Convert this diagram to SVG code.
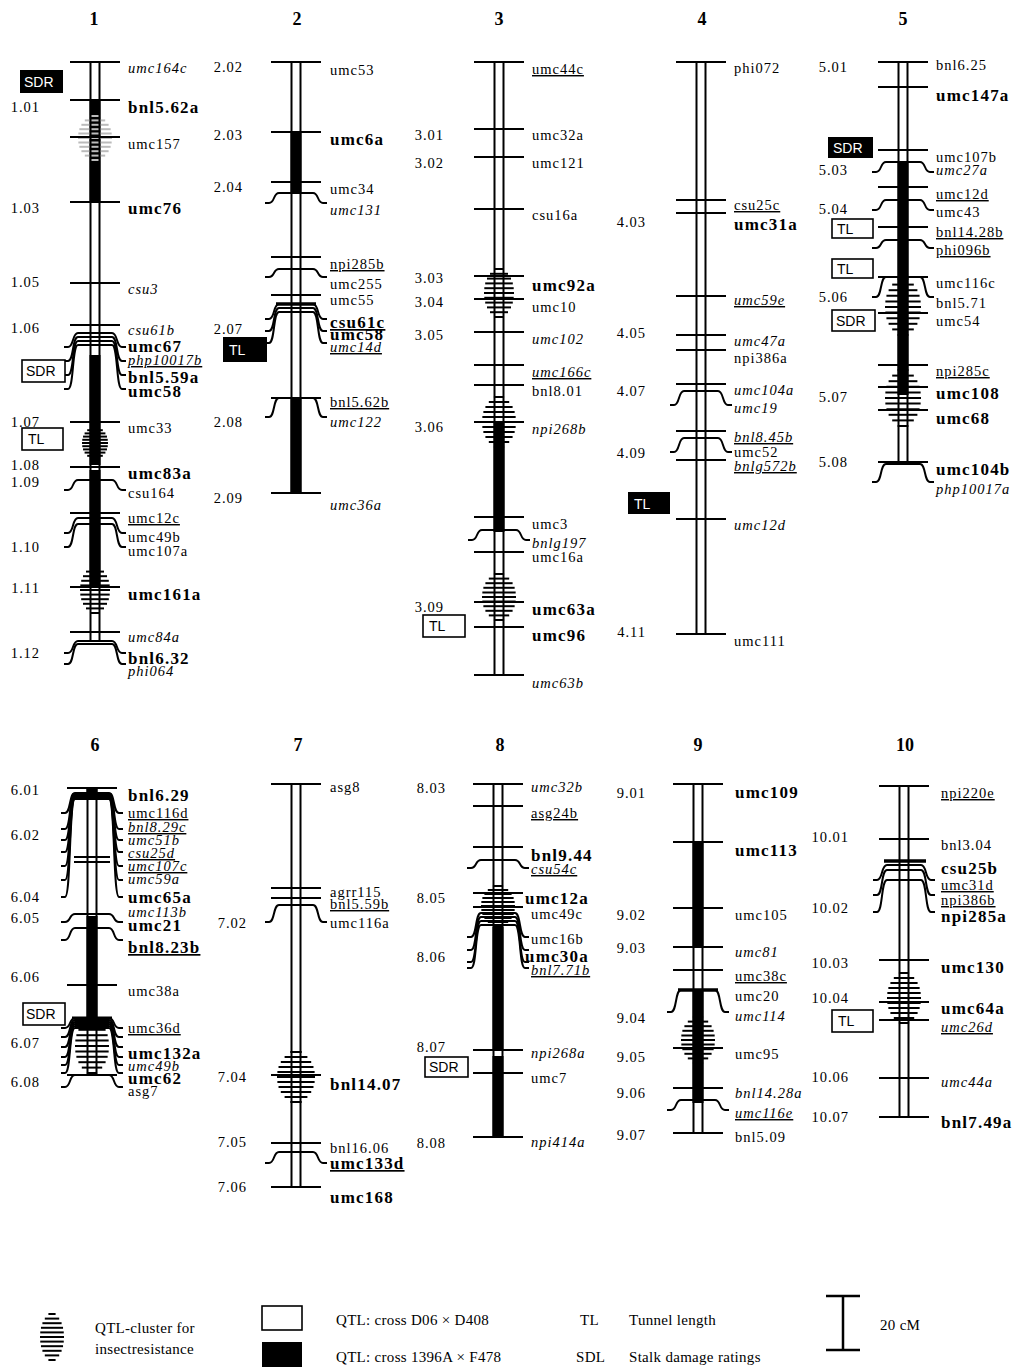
<svg xmlns="http://www.w3.org/2000/svg" width="1016" height="1367" viewBox="0 0 1016 1367">
<style>
text{font-family:"Liberation Serif","Times New Roman",serif;fill:#000}
.r{font-size:14.5px;letter-spacing:1px}
.i{font-size:14.5px;font-style:italic;letter-spacing:1px}
.b{font-size:17px;font-weight:bold;letter-spacing:1.2px}
.u{text-decoration:underline}
.n{font-size:14.5px;letter-spacing:1px;text-anchor:end}
.h{font-size:18px;font-weight:bold;text-anchor:middle}
.bx{font-family:"Liberation Sans",Arial,sans-serif;font-size:14px}
.wt{fill:#fff}
.lg{font-size:15px;letter-spacing:0.3px}
.rl{stroke:#000;stroke-width:2;fill:none}
.ob{fill:#fff;stroke:#000;stroke-width:1.6}
.q line{vector-effect:non-scaling-stroke;stroke-width:2}
</style>
<defs>
<line id="tk" x1="-25" y1="0" x2="25" y2="0" stroke="#000" stroke-width="2"/>
<path id="bd" d="M-31 1L-27 1C-21 1 -23 0 -17 0L17 0C23 0 21 1 27 1L31 1" fill="none" stroke="#000" stroke-width="2" vector-effect="non-scaling-stroke"/>
<g id="q" class="q">
<line x1="-0.3" y1="-1" x2="0.3" y2="-1"/><line x1="-0.6" y1="-0.8" x2="0.6" y2="-0.8"/><line x1="-0.8" y1="-0.6" x2="0.8" y2="-0.6"/><line x1="-0.92" y1="-0.4" x2="0.92" y2="-0.4"/><line x1="-0.98" y1="-0.2" x2="0.98" y2="-0.2"/><line x1="-1" y1="0" x2="1" y2="0"/><line x1="-0.98" y1="0.2" x2="0.98" y2="0.2"/><line x1="-0.92" y1="0.4" x2="0.92" y2="0.4"/><line x1="-0.8" y1="0.6" x2="0.8" y2="0.6"/><line x1="-0.6" y1="0.8" x2="0.6" y2="0.8"/><line x1="-0.3" y1="1" x2="0.3" y2="1"/>
</g>
</defs>
<rect width="1016" height="1367" fill="#fff"/>

<!-- headers -->
<g id="headers">
<text class="h" x="94" y="25">1</text><text class="h" x="297" y="25">2</text><text class="h" x="499" y="25">3</text><text class="h" x="702" y="25">4</text><text class="h" x="903" y="25">5</text>
<text class="h" x="95" y="751">6</text><text class="h" x="298" y="751">7</text><text class="h" x="500" y="751">8</text><text class="h" x="698" y="751">9</text><text class="h" x="905" y="751">10</text>
</g>

<!-- Chromosome 1 -->
<g id="chr1">
<rect x="89.5" y="100" width="11" height="102"/><rect x="89.5" y="355" width="11" height="110"/><rect x="89.5" y="470" width="11" height="115"/>
<use href="#q" stroke="#bbb" transform="translate(95 138) scale(17 22)"/>
<use href="#q" stroke="#000" transform="translate(95 443) scale(13 16)"/>
<use href="#q" stroke="#000" transform="translate(95 590) scale(15 23)"/>
<path class="rl" d="M90.5 62V642M99.5 62V642"/>
<use href="#tk" x="95" y="62"/><use href="#tk" x="95" y="100"/><use href="#tk" x="95" y="137"/><use href="#tk" x="95" y="202"/><use href="#tk" x="95" y="283"/><use href="#tk" x="95" y="325"/><use href="#tk" x="95" y="422"/><use href="#tk" x="95" y="467"/><use href="#tk" x="95" y="513"/><use href="#tk" x="95" y="587"/><use href="#tk" x="95" y="632"/>
<use href="#bd" transform="translate(95 333) scale(1 14)"/><use href="#bd" transform="translate(95 337) scale(1 24)"/><use href="#bd" transform="translate(95 341) scale(1 34)"/><use href="#bd" transform="translate(95 345) scale(1 44)"/>
<use href="#bd" transform="translate(95 480) scale(1 10)"/><use href="#bd" transform="translate(95 518) scale(1 15)"/><use href="#bd" transform="translate(95 524) scale(1 23)"/>
<use href="#bd" transform="translate(95 641) scale(1 12)"/><use href="#bd" transform="translate(95 644) scale(1 20)"/>
<text class="i" x="128" y="73">umc164c</text>
<text class="b" x="128" y="113">bnl5.62a</text>
<text class="r" x="128" y="149">umc157</text>
<text class="b" x="128" y="214">umc76</text>
<text class="i" x="128" y="294">csu3</text>
<text class="i" x="128" y="335">csu61b</text>
<text class="b" x="128" y="352">umc67</text>
<text class="i u" x="128" y="365">php10017b</text>
<text class="b" x="128" y="383">bnl5.59a</text>
<text class="b" x="128" y="397">umc58</text>
<text class="r" x="128" y="433">umc33</text>
<text class="b" x="128" y="479">umc83a</text>
<text class="r" x="128" y="498">csu164</text>
<text class="r u" x="128" y="523">umc12c</text>
<text class="r" x="128" y="542">umc49b</text>
<text class="r" x="128" y="556">umc107a</text>
<text class="b" x="128" y="600">umc161a</text>
<text class="i" x="128" y="642">umc84a</text>
<text class="b" x="128" y="664">bnl6.32</text>
<text class="i" x="128" y="676">phi064</text>
<text class="n" x="40" y="112">1.01</text><text class="n" x="40" y="213">1.03</text><text class="n" x="40" y="287">1.05</text><text class="n" x="40" y="333">1.06</text><text class="n" x="40" y="427">1.07</text><text class="n" x="40" y="470">1.08</text><text class="n" x="40" y="487">1.09</text><text class="n" x="40" y="552">1.10</text><text class="n" x="40" y="593">1.11</text><text class="n" x="40" y="658">1.12</text>
<rect x="20" y="70" width="43" height="23"/><text class="bx wt" x="24" y="87">SDR</text>
<rect class="ob" x="22" y="360" width="43" height="22"/><text class="bx" x="26" y="376">SDR</text>
<rect class="ob" x="22" y="428" width="41" height="22"/><text class="bx" x="28" y="444">TL</text>
</g>

<!-- Chromosome 2 -->
<g id="chr2">
<rect x="290.5" y="132" width="11" height="60"/><rect x="290.5" y="398" width="11" height="95"/>
<path class="rl" d="M291.5 62V493M300.5 62V493"/>
<use href="#tk" x="296" y="62"/><use href="#tk" x="296" y="132"/><use href="#tk" x="296" y="182"/><use href="#tk" x="296" y="257"/><use href="#tk" x="296" y="295"/><use href="#tk" x="296" y="398"/><use href="#tk" x="296" y="493"/>
<line x1="276" y1="304" x2="316" y2="304" stroke="#000" stroke-width="3.5"/>
<use href="#bd" transform="translate(296 193) scale(1 10)"/><use href="#bd" transform="translate(296 269) scale(1 8)"/>
<use href="#bd" transform="translate(296 304) scale(1 15)"/><use href="#bd" transform="translate(296 308) scale(1 23)"/><use href="#bd" transform="translate(296 312) scale(1 31)"/>
<use href="#bd" transform="translate(296 398) scale(1 19)"/>
<text class="r" x="330" y="75">umc53</text>
<text class="b" x="330" y="145">umc6a</text>
<text class="r" x="330" y="194">umc34</text>
<text class="i" x="330" y="215">umc131</text>
<text class="r u" x="330" y="269">npi285b</text>
<text class="r" x="330" y="289">umc255</text>
<text class="r" x="330" y="305">umc55</text>
<text class="b u" x="330" y="328">csu61c</text>
<text class="b" x="330" y="340">umc58</text>
<text class="i u" x="330" y="352">umc14d</text>
<text class="r u" x="330" y="407">bnl5.62b</text>
<text class="i" x="330" y="427">umc122</text>
<text class="i" x="330" y="510">umc36a</text>
<text class="n" x="243" y="72">2.02</text><text class="n" x="243" y="140">2.03</text><text class="n" x="243" y="192">2.04</text><text class="n" x="243" y="334">2.07</text><text class="n" x="243" y="427">2.08</text><text class="n" x="243" y="503">2.09</text>
<rect x="223" y="337" width="44" height="25"/><text class="bx wt" x="229" y="355">TL</text>
</g>

<!-- Chromosome 3 -->
<g id="chr3">
<rect x="493.5" y="422" width="11" height="110"/>
<use href="#q" stroke="#000" transform="translate(499 293) scale(15 24)"/>
<use href="#q" stroke="#000" transform="translate(499 422) scale(17 25)"/>
<use href="#q" stroke="#000" transform="translate(499 597) scale(17 23)"/>
<path class="rl" d="M494.5 62V675M503.5 62V675"/>
<use href="#tk" x="499" y="62"/><use href="#tk" x="499" y="129"/><use href="#tk" x="499" y="157"/><use href="#tk" x="499" y="209"/><use href="#tk" x="499" y="276"/><use href="#tk" x="499" y="299"/><use href="#tk" x="499" y="332"/><use href="#tk" x="499" y="365"/><use href="#tk" x="499" y="385"/><use href="#tk" x="499" y="422"/><use href="#tk" x="499" y="517"/><use href="#tk" x="499" y="552"/><use href="#tk" x="499" y="602"/><use href="#tk" x="499" y="627"/><use href="#tk" x="499" y="675"/>
<use href="#bd" transform="translate(499 530) scale(1 10)"/>
<text class="r u" x="532" y="74">umc44c</text>
<text class="r" x="532" y="140">umc32a</text>
<text class="r" x="532" y="168">umc121</text>
<text class="r" x="532" y="220">csu16a</text>
<text class="b" x="532" y="291">umc92a</text>
<text class="r" x="532" y="312">umc10</text>
<text class="i" x="532" y="344">umc102</text>
<text class="i u" x="532" y="377">umc166c</text>
<text class="r" x="532" y="396">bnl8.01</text>
<text class="i" x="532" y="434">npi268b</text>
<text class="r" x="532" y="529">umc3</text>
<text class="i" x="532" y="548">bnlg197</text>
<text class="r" x="532" y="562">umc16a</text>
<text class="b" x="532" y="615">umc63a</text>
<text class="b" x="532" y="641">umc96</text>
<text class="i" x="532" y="688">umc63b</text>
<text class="n" x="444" y="140">3.01</text><text class="n" x="444" y="168">3.02</text><text class="n" x="444" y="283">3.03</text><text class="n" x="444" y="307">3.04</text><text class="n" x="444" y="340">3.05</text><text class="n" x="444" y="432">3.06</text><text class="n" x="444" y="612">3.09</text>
<rect class="ob" x="423" y="615" width="42" height="22"/><text class="bx" x="429" y="631">TL</text>
</g>

<!-- Chromosome 4 -->
<g id="chr4">
<path class="rl" d="M696.5 62V634M705.5 62V634"/>
<use href="#tk" x="701" y="62"/><use href="#tk" x="701" y="200"/><use href="#tk" x="701" y="213"/><use href="#tk" x="701" y="296"/><use href="#tk" x="701" y="335"/><use href="#tk" x="701" y="350"/><use href="#tk" x="701" y="384"/><use href="#tk" x="701" y="431"/><use href="#tk" x="701" y="460"/><use href="#tk" x="701" y="519"/><use href="#tk" x="701" y="634"/>
<use href="#bd" transform="translate(701 391) scale(1 14)"/><use href="#bd" transform="translate(701 438) scale(1 14)"/>
<text class="r" x="734" y="73">phi072</text>
<text class="r u" x="734" y="210">csu25c</text>
<text class="b" x="734" y="230">umc31a</text>
<text class="i u" x="734" y="305">umc59e</text>
<text class="i" x="734" y="346">umc47a</text>
<text class="r" x="734" y="363">npi386a</text>
<text class="i" x="734" y="395">umc104a</text>
<text class="i" x="734" y="413">umc19</text>
<text class="i u" x="734" y="442">bnl8.45b</text>
<text class="r" x="734" y="457">umc52</text>
<text class="i u" x="734" y="471">bnlg572b</text>
<text class="i" x="734" y="530">umc12d</text>
<text class="r" x="734" y="646">umc111</text>
<text class="n" x="646" y="227">4.03</text><text class="n" x="646" y="338">4.05</text><text class="n" x="646" y="396">4.07</text><text class="n" x="646" y="458">4.09</text><text class="n" x="646" y="637">4.11</text>
<rect x="628" y="492" width="42" height="22"/><text class="bx wt" x="634" y="509">TL</text>
</g>

<!-- Chromosome 5 -->
<g id="chr5">
<rect x="897.5" y="162" width="11" height="233"/>
<use href="#q" stroke="#000" transform="translate(903 307) scale(18 28)"/>
<use href="#q" stroke="#000" transform="translate(903 398) scale(18 28)"/>
<path class="rl" d="M898.5 62V464M907.5 62V464"/>
<use href="#tk" x="903" y="62"/><use href="#tk" x="903" y="87"/><use href="#tk" x="903" y="150"/><use href="#tk" x="903" y="187"/><use href="#tk" x="903" y="227"/><use href="#tk" x="903" y="277"/><use href="#tk" x="903" y="313"/><use href="#tk" x="903" y="365"/><use href="#tk" x="903" y="387"/><use href="#tk" x="903" y="410"/><use href="#tk" x="903" y="462"/>
<use href="#bd" transform="translate(903 162) scale(1 10)"/><use href="#bd" transform="translate(903 200) scale(1 10)"/><use href="#bd" transform="translate(903 240) scale(1 8)"/><use href="#bd" transform="translate(903 277) scale(1 20)"/><use href="#bd" transform="translate(903 464) scale(1 18)"/>
<text class="r" x="936" y="70">bnl6.25</text>
<text class="b" x="936" y="101">umc147a</text>
<text class="r" x="936" y="162">umc107b</text>
<text class="i" x="936" y="175">umc27a</text>
<text class="r u" x="936" y="199">umc12d</text>
<text class="r" x="936" y="217">umc43</text>
<text class="r u" x="936" y="237">bnl14.28b</text>
<text class="r u" x="936" y="255">phi096b</text>
<text class="r" x="936" y="288">umc116c</text>
<text class="r" x="936" y="308">bnl5.71</text>
<text class="r" x="936" y="326">umc54</text>
<text class="r u" x="936" y="376">npi285c</text>
<text class="b" x="936" y="399">umc108</text>
<text class="b" x="936" y="424">umc68</text>
<text class="b" x="936" y="475">umc104b</text>
<text class="i" x="936" y="494">php10017a</text>
<text class="n" x="848" y="72">5.01</text><text class="n" x="848" y="175">5.03</text><text class="n" x="848" y="214">5.04</text><text class="n" x="848" y="302">5.06</text><text class="n" x="848" y="402">5.07</text><text class="n" x="848" y="467">5.08</text>
<rect x="828" y="137" width="45" height="21"/><text class="bx wt" x="833" y="153">SDR</text>
<rect class="ob" x="832" y="219" width="41" height="19"/><text class="bx" x="837" y="234">TL</text>
<rect class="ob" x="832" y="259" width="41" height="19"/><text class="bx" x="837" y="274">TL</text>
<rect class="ob" x="832" y="310" width="43" height="21"/><text class="bx" x="836" y="326">SDR</text>
</g>

<!-- Chromosome 6 -->
<g id="chr6">
<rect x="86.5" y="788" width="11" height="12"/><rect x="86.5" y="916" width="11" height="104"/>
<use href="#q" stroke="#000" transform="translate(92 1046) scale(17 27)"/>
<path class="rl" d="M87.5 788V1075M96.5 788V1075"/>
<use href="#tk" x="92" y="788"/><use href="#tk" x="92" y="1075"/><use href="#tk" x="92" y="985"/>
<line x1="72" y1="795" x2="112" y2="795" stroke="#000" stroke-width="3"/>
<line x1="74" y1="857" x2="110" y2="857" stroke="#000" stroke-width="2"/><line x1="74" y1="862" x2="110" y2="862" stroke="#000" stroke-width="2"/>
<line x1="72" y1="1018" x2="112" y2="1018" stroke="#000" stroke-width="3"/>
<use href="#bd" transform="translate(92 793) scale(1 20)"/><use href="#bd" transform="translate(92 794) scale(1 35)"/><use href="#bd" transform="translate(92 795) scale(1 45)"/><use href="#bd" transform="translate(92 796) scale(1 56)"/><use href="#bd" transform="translate(92 797) scale(1 69)"/><use href="#bd" transform="translate(92 798) scale(1 82)"/><use href="#bd" transform="translate(92 799) scale(1 98)"/>
<use href="#bd" transform="translate(92 914) scale(1 8)"/><use href="#bd" transform="translate(92 928) scale(1 12)"/>
<use href="#bd" transform="translate(92 1018) scale(1 10)"/><use href="#bd" transform="translate(92 1020) scale(1 17)"/><use href="#bd" transform="translate(92 1022) scale(1 25)"/><use href="#bd" transform="translate(92 1024) scale(1 33)"/><use href="#bd" transform="translate(92 1026) scale(1 39)"/><use href="#bd" transform="translate(92 1028) scale(1 45)"/><use href="#bd" transform="translate(92 1075) scale(1 12)"/>
<text class="b" x="128" y="801">bnl6.29</text>
<text class="r u" x="128" y="818">umc116d</text>
<text class="i u" x="128" y="832">bnl8.29c</text>
<text class="i" x="128" y="845">umc51b</text>
<text class="i u" x="128" y="858">csu25d</text>
<text class="i u" x="128" y="871">umc107c</text>
<text class="i" x="128" y="884">umc59a</text>
<text class="b" x="128" y="903">umc65a</text>
<text class="i" x="128" y="917">umc113b</text>
<text class="b" x="128" y="931">umc21</text>
<text class="b u" x="128" y="953">bnl8.23b</text>
<text class="r" x="128" y="996">umc38a</text>
<text class="r u" x="128" y="1033">umc36d</text>
<text class="b" x="128" y="1059">umc132a</text>
<text class="i" x="128" y="1071">umc49b</text>
<text class="b" x="128" y="1084">umc62</text>
<text class="r" x="128" y="1096">asg7</text>
<text class="n" x="40" y="795">6.01</text><text class="n" x="40" y="840">6.02</text><text class="n" x="40" y="902">6.04</text><text class="n" x="40" y="923">6.05</text><text class="n" x="40" y="982">6.06</text><text class="n" x="40" y="1048">6.07</text><text class="n" x="40" y="1087">6.08</text>
<rect class="ob" x="23" y="1003" width="42" height="22"/><text class="bx" x="26" y="1019">SDR</text>
</g>

<!-- Chromosome 7 -->
<g id="chr7">
<use href="#q" stroke="#000" transform="translate(296 1077) scale(19 25)"/>
<path class="rl" d="M291.5 784V1187M300.5 784V1187"/>
<use href="#tk" x="296" y="784"/><use href="#tk" x="296" y="888"/><use href="#tk" x="296" y="898"/><use href="#tk" x="296" y="1075"/><use href="#tk" x="296" y="1143"/><use href="#tk" x="296" y="1187"/>
<use href="#bd" transform="translate(296 905) scale(1 17)"/><use href="#bd" transform="translate(296 1152) scale(1 11)"/>
<text class="r" x="330" y="792">asg8</text>
<text class="r" x="330" y="897">agrr115</text>
<text class="r u" x="330" y="909">bnl5.59b</text>
<text class="r" x="330" y="928">umc116a</text>
<text class="b" x="330" y="1090">bnl14.07</text>
<text class="r" x="330" y="1153">bnl16.06</text>
<text class="b u" x="330" y="1169">umc133d</text>
<text class="b" x="330" y="1203">umc168</text>
<text class="n" x="247" y="928">7.02</text><text class="n" x="247" y="1082">7.04</text><text class="n" x="247" y="1147">7.05</text><text class="n" x="247" y="1192">7.06</text>
</g>

<!-- Chromosome 8 -->
<g id="chr8">
<rect x="492.5" y="927" width="11" height="123"/><rect x="492.5" y="1056" width="11" height="81"/>
<use href="#q" stroke="#000" transform="translate(498 906) scale(17 20)"/>
<path class="rl" d="M493.5 784V1137M502.5 784V1137"/>
<use href="#tk" x="498" y="784"/><use href="#tk" x="498" y="806"/><use href="#tk" x="498" y="847"/><use href="#tk" x="498" y="893"/><use href="#tk" x="498" y="907"/><use href="#tk" x="498" y="1050"/><use href="#tk" x="498" y="1073"/><use href="#tk" x="498" y="1137"/>
<use href="#bd" transform="translate(498 860) scale(1 8)"/><use href="#bd" transform="translate(498 913) scale(1 24)"/><use href="#bd" transform="translate(498 917) scale(1 33)"/><use href="#bd" transform="translate(498 921) scale(1 41)"/><use href="#bd" transform="translate(498 925) scale(1 43)"/>
<text class="i" x="531" y="792">umc32b</text>
<text class="r u" x="531" y="818">asg24b</text>
<text class="b" x="531" y="861">bnl9.44</text>
<text class="i u" x="531" y="874">csu54c</text>
<text class="b" x="525" y="904">umc12a</text>
<text class="r" x="531" y="919">umc49c</text>
<text class="r" x="531" y="944">umc16b</text>
<text class="b" x="525" y="962">umc30a</text>
<text class="i u" x="531" y="975">bnl7.71b</text>
<text class="i" x="531" y="1058">npi268a</text>
<text class="r" x="531" y="1083">umc7</text>
<text class="i" x="531" y="1147">npi414a</text>
<text class="n" x="446" y="793">8.03</text><text class="n" x="446" y="903">8.05</text><text class="n" x="446" y="962">8.06</text><text class="n" x="446" y="1052">8.07</text><text class="n" x="446" y="1148">8.08</text>
<rect class="ob" x="425" y="1057" width="43" height="20"/><text class="bx" x="429" y="1072">SDR</text>
</g>

<!-- Chromosome 9 -->
<g id="chr9">
<rect x="692.5" y="842" width="11" height="105"/><rect x="692.5" y="990" width="11" height="113"/>
<use href="#q" stroke="#000" transform="translate(698 1040) scale(17 23)"/>
<path class="rl" d="M693.5 784V1133M702.5 784V1133"/>
<use href="#tk" x="698" y="784"/><use href="#tk" x="698" y="842"/><use href="#tk" x="698" y="908"/><use href="#tk" x="698" y="947"/><use href="#tk" x="698" y="970"/><use href="#tk" x="698" y="1048"/><use href="#tk" x="698" y="1088"/><use href="#tk" x="698" y="1133"/>
<line x1="678" y1="990" x2="718" y2="990" stroke="#000" stroke-width="3.5"/>
<use href="#bd" transform="translate(698 990) scale(1 22)"/><use href="#bd" transform="translate(698 1100) scale(1 10)"/>
<text class="b" x="735" y="798">umc109</text>
<text class="b" x="735" y="856">umc113</text>
<text class="r" x="735" y="920">umc105</text>
<text class="i" x="735" y="957">umc81</text>
<text class="r u" x="735" y="981">umc38c</text>
<text class="r" x="735" y="1001">umc20</text>
<text class="i" x="735" y="1021">umc114</text>
<text class="r" x="735" y="1059">umc95</text>
<text class="i" x="735" y="1098">bnl14.28a</text>
<text class="i u" x="735" y="1118">umc116e</text>
<text class="r" x="735" y="1142">bnl5.09</text>
<text class="n" x="646" y="798">9.01</text><text class="n" x="646" y="920">9.02</text><text class="n" x="646" y="953">9.03</text><text class="n" x="646" y="1023">9.04</text><text class="n" x="646" y="1062">9.05</text><text class="n" x="646" y="1098">9.06</text><text class="n" x="646" y="1140">9.07</text>
</g>

<!-- Chromosome 10 -->
<g id="chr10">
<use href="#q" stroke="#000" transform="translate(904 998) scale(17 25)"/>
<path class="rl" d="M899.5 786V1117M908.5 786V1117"/>
<use href="#tk" x="904" y="786"/><use href="#tk" x="904" y="839"/><use href="#tk" x="904" y="960"/><use href="#tk" x="904" y="1002"/><use href="#tk" x="904" y="1020"/><use href="#tk" x="904" y="1078"/><use href="#tk" x="904" y="1117"/>
<line x1="884" y1="861" x2="926" y2="861" stroke="#000" stroke-width="3.5"/>
<use href="#bd" transform="translate(904 865) scale(1 15)"/><use href="#bd" transform="translate(904 870) scale(1 25)"/><use href="#bd" transform="translate(904 880) scale(1 32)"/>
<text class="r u" x="941" y="798">npi220e</text>
<text class="r" x="941" y="850">bnl3.04</text>
<text class="b" x="941" y="874">csu25b</text>
<text class="r u" x="941" y="890">umc31d</text>
<text class="r u" x="941" y="905">npi386b</text>
<text class="b" x="941" y="922">npi285a</text>
<text class="b" x="941" y="973">umc130</text>
<text class="b" x="941" y="1014">umc64a</text>
<text class="i u" x="941" y="1032">umc26d</text>
<text class="i" x="941" y="1087">umc44a</text>
<text class="b" x="941" y="1128">bnl7.49a</text>
<text class="n" x="849" y="842">10.01</text><text class="n" x="849" y="913">10.02</text><text class="n" x="849" y="968">10.03</text><text class="n" x="849" y="1003">10.04</text><text class="n" x="849" y="1082">10.06</text><text class="n" x="849" y="1122">10.07</text>
<rect class="ob" x="832" y="1010" width="41" height="22"/><text class="bx" x="838" y="1026">TL</text>
</g>

<!-- Legend -->
<g id="legend">
<use href="#q" stroke="#000" transform="translate(52 1337) scale(12 23)"/>
<text class="lg" x="95" y="1333">QTL-cluster for</text>
<text class="lg" x="95" y="1354">insectresistance</text>
<rect class="ob" x="262" y="1306" width="40" height="24" stroke-width="2"/>
<rect x="262" y="1342" width="40" height="25"/>
<text class="lg" x="336" y="1325">QTL: cross D06 × D408</text>
<text class="lg" x="336" y="1362">QTL: cross 1396A × F478</text>
<text class="lg" x="580" y="1325">TL</text>
<text class="lg" x="629" y="1325">Tunnel length</text>
<text class="lg" x="576" y="1362">SDL</text>
<text class="lg" x="629" y="1362">Stalk damage ratings</text>
<path d="M843 1296V1350M826 1296H860M826 1350H860" stroke="#000" stroke-width="2.5" fill="none"/>
<text class="lg" x="880" y="1330">20 cM</text>
</g>
</svg>
